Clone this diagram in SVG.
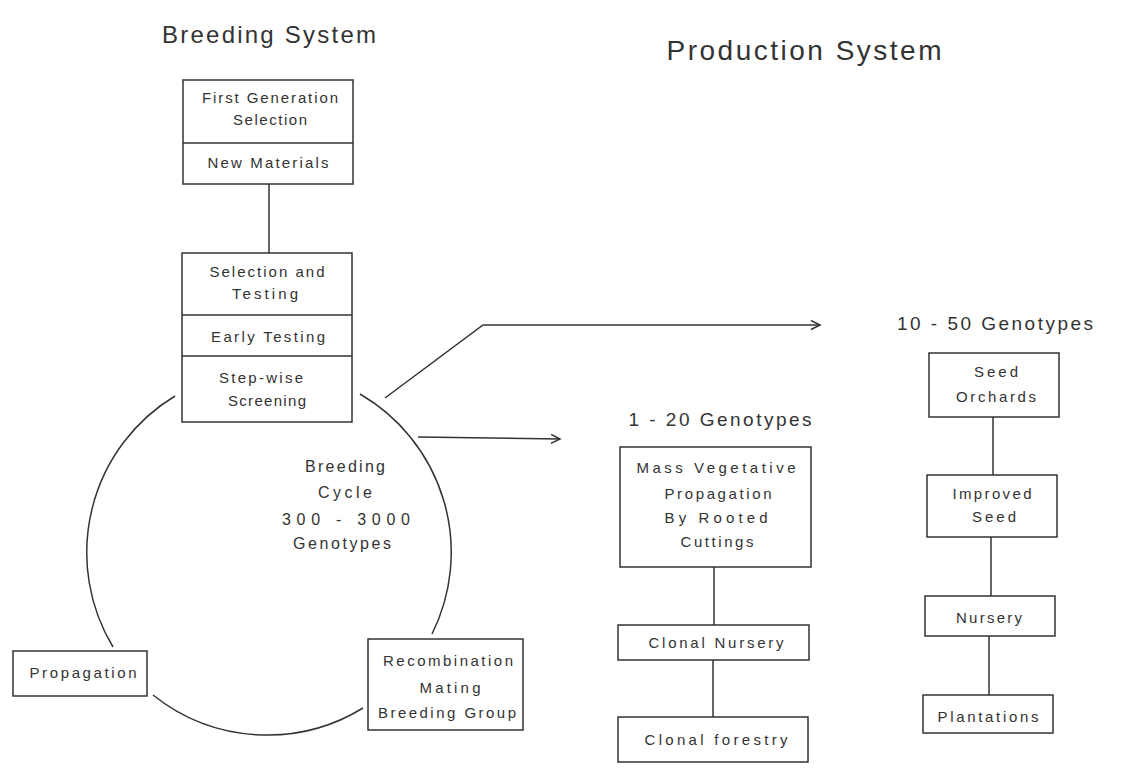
<svg xmlns="http://www.w3.org/2000/svg" width="1135" height="782" viewBox="0 0 1135 782">
<style>
  .bx { fill: #ffffff; stroke: #333; stroke-width: 1.5; }
  .ln { fill: none; stroke: #333; stroke-width: 1.5; }
  text { font-family: "Liberation Sans", Arial, sans-serif; fill: #333; text-anchor: middle; }
  .t { font-size: 15px; }
  .g { font-size: 19px; }
  .c { font-size: 16px; }
</style>
<defs>
  <marker id="arr" markerWidth="12" markerHeight="12" refX="10" refY="5" orient="auto" markerUnits="userSpaceOnUse">
    <path d="M1,0.5 L10,5 L1,9.5" fill="none" stroke="#333" stroke-width="1.5"/>
  </marker>
</defs>
<rect width="1135" height="782" fill="#fff"/>

<text x="269" y="43" style="font-size:24px" textLength="214" lengthAdjust="spacing">Breeding System</text>
<text x="804" y="60" style="font-size:28px" textLength="275" lengthAdjust="spacing">Production System</text>

<g id="connectors">
  <line class="ln" x1="269" y1="184" x2="269" y2="253"/>
  <path class="ln" d="M175,396 A183,183 0 0,0 113,647"/>
  <path class="ln" d="M153,695 A183,183 0 0,0 363,708"/>
  <path class="ln" d="M432,634 A183,183 0 0,0 360,394"/>
  <line class="ln" x1="418" y1="437" x2="560" y2="439" marker-end="url(#arr)"/>
  <polyline class="ln" points="385,398 483,325 820,325" marker-end="url(#arr)"/>
  <line class="ln" x1="714" y1="567" x2="714" y2="625"/>
  <line class="ln" x1="713" y1="660" x2="713" y2="717"/>
  <line class="ln" x1="993" y1="417" x2="993" y2="475"/>
  <line class="ln" x1="991" y1="537" x2="991" y2="596"/>
  <line class="ln" x1="989" y1="636" x2="989" y2="695"/>
</g>

<g id="first-generation">
  <rect class="bx" x="183" y="80" width="170" height="104"/>
  <line class="ln" x1="183" y1="143" x2="353" y2="143"/>
  <text class="t" x="270" y="103" textLength="136" lengthAdjust="spacing">First Generation</text>
  <text class="t" x="270" y="125" textLength="74" lengthAdjust="spacing">Selection</text>
  <text class="t" x="268" y="168" textLength="121" lengthAdjust="spacing">New Materials</text>
</g>

<g id="selection-testing">
  <rect class="bx" x="182" y="253" width="170" height="169"/>
  <line class="ln" x1="182" y1="315" x2="352" y2="315"/>
  <line class="ln" x1="182" y1="356" x2="352" y2="356"/>
  <text class="t" x="267" y="277" textLength="115" lengthAdjust="spacing">Selection and</text>
  <text class="t" x="265" y="299" textLength="66" lengthAdjust="spacing">Testing</text>
  <text class="t" x="268" y="342" textLength="114" lengthAdjust="spacing">Early Testing</text>
  <text class="t" x="261" y="383" textLength="84" lengthAdjust="spacing">Step-wise</text>
  <text class="t" x="267" y="406" textLength="78" lengthAdjust="spacing">Screening</text>
</g>

<g id="breeding-cycle">
  <text class="c" x="345" y="472" textLength="80" lengthAdjust="spacing">Breeding</text>
  <text class="c" x="345" y="498" textLength="54" lengthAdjust="spacing">Cycle</text>
  <text class="c" x="346" y="525" textLength="128" lengthAdjust="spacing">300 - 3000</text>
  <text class="c" x="342" y="549" textLength="98" lengthAdjust="spacing">Genotypes</text>
</g>

<g id="propagation">
  <rect class="bx" x="13" y="651" width="134" height="45"/>
  <text class="t" x="83" y="678" textLength="107" lengthAdjust="spacing">Propagation</text>
</g>

<g id="recombination">
  <rect class="bx" x="368" y="639" width="155" height="91"/>
  <text class="t" x="448" y="666" textLength="130" lengthAdjust="spacing">Recombination</text>
  <text class="t" x="450" y="693" textLength="61" lengthAdjust="spacing">Mating</text>
  <text class="t" x="447" y="718" textLength="138" lengthAdjust="spacing">Breeding Group</text>
</g>

<g id="label-1-20">
  <text class="g" x="720" y="426" textLength="183" lengthAdjust="spacing">1 - 20 Genotypes</text>
</g>

<g id="mass-vegetative">
  <rect class="bx" x="620" y="447" width="191" height="120"/>
  <text class="t" x="716" y="473" textLength="159" lengthAdjust="spacing">Mass Vegetative</text>
  <text class="t" x="718" y="499" textLength="107" lengthAdjust="spacing">Propagation</text>
  <text class="t" x="716" y="523" textLength="103" lengthAdjust="spacing">By Rooted</text>
  <text class="t" x="717" y="547" textLength="73" lengthAdjust="spacing">Cuttings</text>
</g>

<g id="clonal-nursery">
  <rect class="bx" x="618" y="625" width="191" height="35"/>
  <text class="t" x="716" y="648" textLength="135" lengthAdjust="spacing">Clonal Nursery</text>
</g>

<g id="clonal-forestry">
  <rect class="bx" x="618" y="717" width="190" height="45"/>
  <text class="t" x="716" y="745" textLength="143" lengthAdjust="spacing">Clonal forestry</text>
</g>

<g id="label-10-50">
  <text class="g" x="995" y="330" textLength="196" lengthAdjust="spacing">10 - 50 Genotypes</text>
</g>

<g id="seed-orchards">
  <rect class="bx" x="929" y="353" width="130" height="64"/>
  <text class="t" x="996" y="377" textLength="44" lengthAdjust="spacing">Seed</text>
  <text class="t" x="996" y="402" textLength="80" lengthAdjust="spacing">Orchards</text>
</g>

<g id="improved-seed">
  <rect class="bx" x="927" y="475" width="130" height="62"/>
  <text class="t" x="992" y="499" textLength="79" lengthAdjust="spacing">Improved</text>
  <text class="t" x="994" y="522" textLength="44" lengthAdjust="spacing">Seed</text>
</g>

<g id="nursery">
  <rect class="bx" x="925" y="596" width="130" height="40"/>
  <text class="t" x="989" y="623" textLength="66" lengthAdjust="spacing">Nursery</text>
</g>

<g id="plantations">
  <rect class="bx" x="923" y="695" width="130" height="38"/>
  <text class="t" x="988" y="722" textLength="101" lengthAdjust="spacing">Plantations</text>
</g>
</svg>
